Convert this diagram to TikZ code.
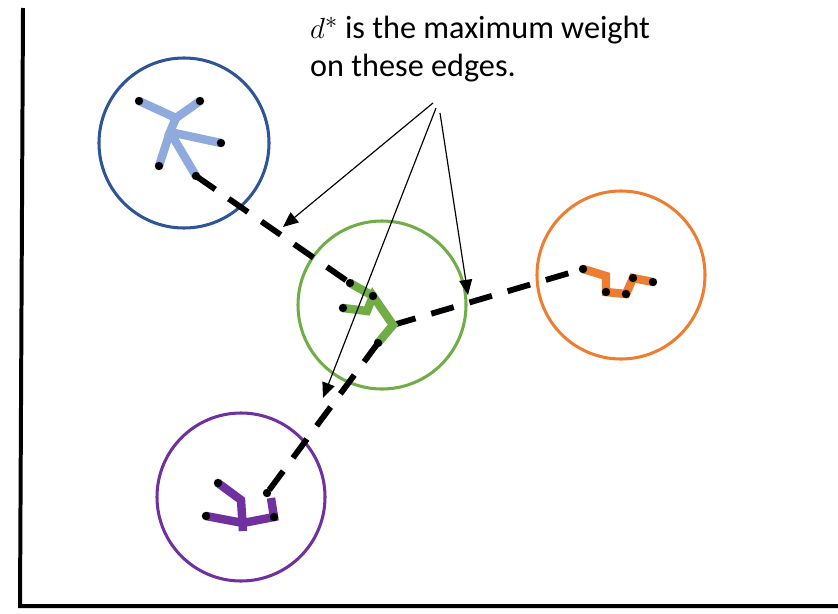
\documentclass[tikz,border=0pt]{standalone}
\usepackage{fontspec}
\setmainfont{Carlito}
\usetikzlibrary{arrows.meta}
\definecolor{bluering}{HTML}{2F5597}
\definecolor{bluetree}{HTML}{8FAADC}
\definecolor{greentree}{HTML}{70AD47}
\definecolor{orangetree}{HTML}{ED7D31}
\definecolor{purpletree}{HTML}{7030A0}
\begin{document}
\begin{tikzpicture}[x=0.03cm,y=-0.03cm,
    ring/.style={line width=2.6pt},
    branch/.style={line width=7.2pt},
    link/.style={line width=5pt,dash pattern=on 20pt off 14pt},
    pointer/.style={line width=1pt,-{Triangle[length=13pt,width=11pt]}}]
    \useasboundingbox (0,0) rectangle (838,613);
    % axes
    \coordinate(top)at(23,8);
    \coordinate(origin)at(20,606);
    \coordinate(right)at(838,606);
    \draw[line width=3.4pt](top)--(origin)--(right);
    % clusters
    \coordinate(B)at(184,143);
    \coordinate(G)at(382,305);
    \coordinate(O)at(621,275);
    \coordinate(P)at(241,497);
    \draw[ring,bluering](B)circle(2.55cm);
    \draw[ring,greentree](G)circle(2.52cm);
    \draw[ring,orangetree](O)circle(2.52cm);
    \draw[ring,purpletree](P)circle(2.52cm);
    % blue tree
    \coordinate(b1)at(139,101);
    \coordinate(b2)at(176,118);
    \coordinate(b3)at(200,101);
    \coordinate(b4)at(170,132);
    \coordinate(b5)at(221,143);
    \coordinate(b6)at(159,166);
    \coordinate(b7)at(196,176);
    % green tree
    \coordinate(g1)at(350,283);
    \coordinate(g2)at(373,296);
    \coordinate(g3)at(343,308);
    \coordinate(g4)at(367,311);
    \coordinate(g5)at(393,325);
    \coordinate(g6)at(378,343);
    % orange tree
    \coordinate(o1)at(583,269);
    \coordinate(o2)at(606,276);
    \coordinate(o3)at(606,292);
    \coordinate(o4)at(626,294);
    \coordinate(o5)at(633,278);
    \coordinate(o6)at(653,282);
    % purple tree
    \coordinate(p1)at(267,493);
    \coordinate(p2)at(271,498);
    \coordinate(p3)at(274,517);
    \coordinate(p4)at(243,523);
    \coordinate(p5)at(206,516);
    \coordinate(p6)at(241,500);
    \coordinate(p7)at(218,483);
    \coordinate(p8)at(243,531);
    % inter-cluster edges
    \draw[link](b7)--(g1);
    \draw[link](g5)--(o1);
    \draw[link](g6)--(p1);
    \draw[branch,bluetree](b1)--(b2)--(b3) (b2)--(b4)--(b5) (b4)--(b6) (b4)--(b7);
    \draw[branch,greentree](g1)--(g2) (g3)--(g4)--(g2)--(g5)--(g6);
    \draw[branch,orangetree](o1)--(o2)--(o3)--(o4)--(o5)--(o6);
    \draw[branch,purpletree](p2)--(p3)--(p4)--(p5) (p7)--(p6)--(p8);
    \foreach \v in {b1,b3,b5,b6,b7,g1,g2,g3,g6,o1,o3,o4,o5,o6,p1,p3,p5,p7}
        \fill(\v)circle(3.6pt);
    % note
    \node[anchor=north west,align=left,inner sep=0pt,font=\fontsize{27.5}{32}\selectfont](note)at(310,16)
        {$d^*$ is the maximum weight\\on these edges.};
    \coordinate(a1)at(433,103);
    \coordinate(a2)at(436,108);
    \coordinate(a3)at(440,113);
    \coordinate(t1)at(283,227);
    \coordinate(t2)at(323,398);
    \coordinate(t3)at(468,295);
    \draw[pointer](a1)--(t1);
    \draw[pointer](a2)--(t2);
    \draw[pointer](a3)--(t3);
\end{tikzpicture}
\end{document}
